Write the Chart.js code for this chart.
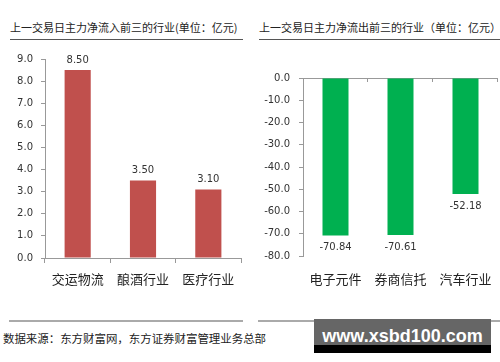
<!DOCTYPE html>
<html><head><meta charset="utf-8">
<script src="https://cdn.jsdelivr.net/npm/chart.js@4.4.1/dist/chart.umd.min.js"></script>
<style>
body{margin:0;width:500px;height:362px;background:#fff;position:relative;overflow:hidden;font-family:"Noto Sans CJK SC",sans-serif;}
.t{position:absolute;top:19px;font-size:11px;line-height:16px;color:#222;white-space:nowrap;}
.hl{position:absolute;height:0;border-top:1.5px solid #555;}
.bl{position:absolute;height:0;border-top:2px solid #aaa;}
.src{position:absolute;left:3px;top:330px;font-size:11.45px;line-height:16px;color:#222;white-space:nowrap;}
.wm{position:absolute;left:314px;top:319px;width:177px;height:34px;background:#666;}
.wm .bot{position:absolute;left:0;bottom:0;width:100%;height:8px;background:#000;}
.wm .txt{position:absolute;left:0;top:7px;width:100%;text-align:center;font-family:"Liberation Sans",Arial,sans-serif;font-weight:bold;font-size:18px;line-height:20px;color:#fff;}
.cv{position:absolute;top:45px;width:250px;height:250px;}
</style></head><body>
<div class="t" style="left:10px;">上一交易日主力净流入前三的行业(单位：亿元)</div>
<div class="t" style="left:259px;">上一交易日主力净流出前三的行业（单位：亿元）</div>
<div class="hl" style="left:10px;top:39px;width:233px;"></div>
<div class="hl" style="left:259px;top:39px;width:241px;"></div>
<div class="cv" style="left:0;"><canvas id="c1" width="250" height="250"></canvas></div>
<div class="cv" style="left:250px;"><canvas id="c2" width="250" height="250"></canvas></div>
<div class="bl" style="left:9px;top:320px;width:234px;"></div>
<div class="bl" style="left:258px;top:320px;width:242px;"></div>
<div class="src">数据来源：东方财富网，东方证券财富管理业务总部</div>
<div class="wm"><div class="bot"></div><div class="txt">www.xsbd100.com</div></div>
<script>
const inflowCategories = ['交运物流', '酿酒行业', '医疗行业'];
const inflowValues = [8.50, 3.50, 3.10];
const outflowCategories = ['电子元件', '券商信托', '汽车行业'];
const outflowValues = [-70.84, -70.61, -52.18];

const tickFont = {family: '"DejaVu Sans", sans-serif', size: 10};
const catFont = {family: '"Noto Sans CJK SC", sans-serif', size: 13};
const axisColor = '#999';

const valueLabels = {
  id: 'valueLabels',
  afterDatasetsDraw(chart) {
    const ctx = chart.ctx;
    const meta = chart.getDatasetMeta(0);
    const data = chart.data.datasets[0].data;
    ctx.save();
    ctx.font = '10px "DejaVu Sans", sans-serif';
    ctx.fillStyle = '#333';
    ctx.textAlign = 'center';
    ctx.textBaseline = 'middle';
    meta.data.forEach((bar, i) => {
      const v = data[i];
      const y = v >= 0 ? bar.y - 10 : bar.y + 12;
      ctx.fillText(v.toFixed(2), bar.x, y);
    });
    ctx.restore();
  }
};

const topTicks = {
  id: 'topTicks',
  afterDraw(chart) {
    const xs = chart.scales.x, ys = chart.scales.y;
    const y0 = ys.getPixelForValue(0);
    const n = chart.data.labels.length;
    const w = (xs.right - xs.left) / n;
    const ctx = chart.ctx;
    ctx.save();
    ctx.strokeStyle = axisColor;
    ctx.lineWidth = 1;
    for (let i = 1; i <= n; i++) {
      const x = Math.round(xs.left + i * w) - 0.5;
      ctx.beginPath();
      ctx.moveTo(x, y0);
      ctx.lineTo(x, y0 + 4);
      ctx.stroke();
    }
    ctx.restore();
  }
};

Chart.defaults.animation = false;

new Chart(document.getElementById('c1'), {
  type: 'bar',
  data: {
    labels: inflowCategories,
    datasets: [{data: inflowValues, backgroundColor: '#C0504D', borderWidth: 0,
      categoryPercentage: 1, barPercentage: 0.4}]
  },
  options: {
    responsive: false, devicePixelRatio: 1, animation: false,
    layout: {padding: {top: 11, right: 9, left: 0, bottom: 0}},
    plugins: {legend: {display: false}, tooltip: {enabled: false}},
    scales: {
      x: {
        offset: true,
        grid: {drawOnChartArea: false, offset: true, tickLength: 5, color: axisColor},
        border: {color: axisColor},
        ticks: {font: catFont, color: '#222', padding: 8, maxRotation: 0},
        afterFit(s) { s.height = 37; }
      },
      y: {
        min: 0, max: 9,
        grid: {drawOnChartArea: false, tickLength: 4, color: axisColor},
        border: {color: axisColor},
        ticks: {stepSize: 1, font: tickFont, color: '#333', padding: 8,
          callback: v => v.toFixed(1)},
        afterFit(s) { s.width = 45; }
      }
    }
  },
  plugins: [valueLabels]
});

new Chart(document.getElementById('c2'), {
  type: 'bar',
  data: {
    labels: outflowCategories,
    datasets: [{data: outflowValues, backgroundColor: '#00B050', borderWidth: 0,
      categoryPercentage: 1, barPercentage: 0.4}]
  },
  options: {
    responsive: false, devicePixelRatio: 1, animation: false,
    layout: {padding: {top: 33, right: 2, left: 0, bottom: 0}},
    plugins: {legend: {display: false}, tooltip: {enabled: false}},
    scales: {
      x: {
        offset: true,
        grid: {display: true, drawOnChartArea: false, drawTicks: true, tickLength: 15,
          color: 'rgba(0,0,0,0)'},
        border: {display: false},
        ticks: {font: catFont, color: '#222', padding: 0, maxRotation: 0},
        afterFit(s) { s.height = 39; }
      },
      y: {
        min: -80, max: 0,
        grid: {drawOnChartArea: true, tickLength: 4,
          color: c => (c.tick && c.tick.value === 0) ? axisColor : 'rgba(0,0,0,0)',
          tickColor: axisColor},
        border: {color: axisColor},
        ticks: {stepSize: 10, font: tickFont, color: '#333', padding: 9,
          callback: v => v.toFixed(1)},
        afterFit(s) { s.width = 53; }
      }
    }
  },
  plugins: [valueLabels, topTicks]
});
</script>
</body></html>
